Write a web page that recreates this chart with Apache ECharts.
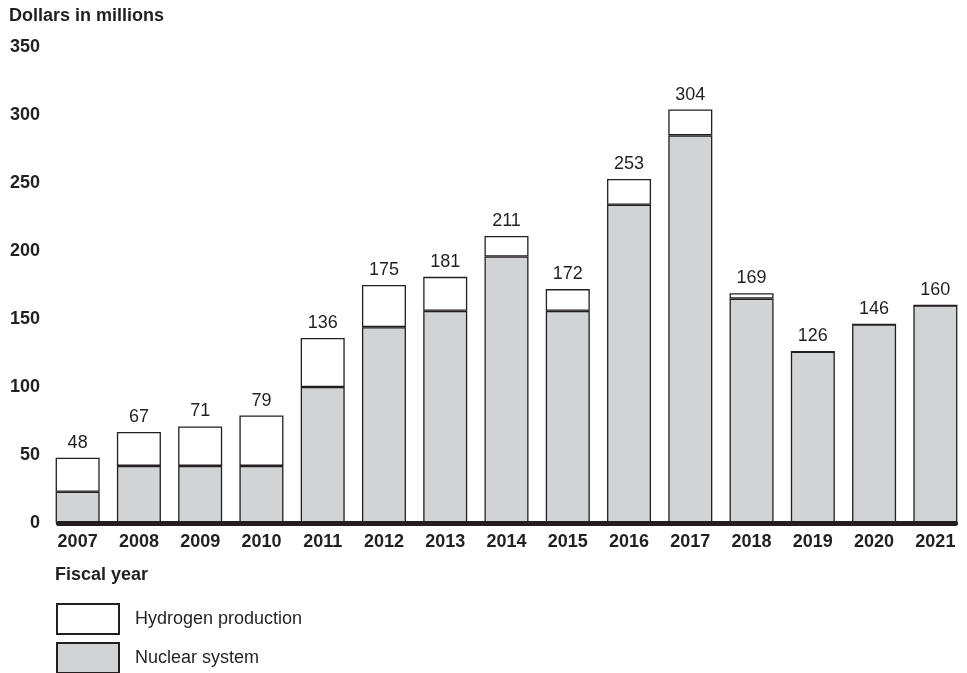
<!DOCTYPE html>
<html>
<head>
<meta charset="utf-8">
<script src="https://cdn.jsdelivr.net/npm/echarts@6/dist/echarts.min.js"></script>
<style>
html,body{margin:0;padding:0;background:#fff;}
#chart{width:967px;height:673px;}
</style>
</head>
<body>
<div id="chart"></div>
<script>
const years = ['2007','2008','2009','2010','2011','2012','2013','2014','2015','2016','2017','2018','2019','2020','2021'];
const nuclear = [23, 42, 42, 42, 100, 144, 156, 196, 156, 234, 285, 165, 126, 146, 160];
const hydrogen = [25, 25, 29, 37, 36, 31, 25, 15, 16, 19, 19, 4, 0, 0, 0];
const totals = [48, 67, 71, 79, 136, 175, 181, 211, 172, 253, 304, 169, 126, 146, 160];
const yTicks = [0, 50, 100, 150, 200, 250, 300, 350];

const ink = '#231f20';
const font = '"Liberation Sans", Arial, Helvetica, sans-serif';

const legendBase = {
  orient: 'vertical', left: 56, padding: 0,
  itemWidth: 62, itemHeight: 30,
  icon: 'rect',
  textStyle: {fontFamily: font, fontSize: 18, color: ink, padding: [0, 0, 0, 11]}
};

const chart = echarts.init(document.getElementById('chart'), null, {renderer: 'canvas'});
chart.setOption({
  animation: false,
  backgroundColor: '#ffffff',
  textStyle: {fontFamily: font, color: ink},
  title: [
    {text: 'Dollars in millions', left: 9, top: 7, padding: 0,
     textStyle: {fontFamily: font, fontSize: 18, fontWeight: 'bold', color: ink}},
    {text: 'Fiscal year', left: 55, top: 566, padding: 0,
     textStyle: {fontFamily: font, fontSize: 18, fontWeight: 'bold', color: ink}}
  ],
  legend: [
    Object.assign({}, legendBase, {top: 603, data: ['Hydrogen production']}),
    Object.assign({}, legendBase, {top: 642, data: ['Nuclear system']})
  ],
  grid: [
    {left: 47, right: 1, top: 47, bottom: 150},
    {left: 58.5, right: 11.5, top: 47, bottom: 150}
  ],
  xAxis: [
    {type: 'category', gridIndex: 0, data: years,
     axisLine: {show: false}, axisTick: {show: false},
     axisLabel: {margin: 10, fontFamily: font, fontSize: 18, fontWeight: 'bold', color: ink}},
    {type: 'category', gridIndex: 1, data: years, z: 10,
     axisLine: {show: true, lineStyle: {color: ink, width: 5}},
     axisTick: {show: false}, axisLabel: {show: false}}
  ],
  yAxis: [
    {type: 'value', gridIndex: 0, min: yTicks[0], max: yTicks[yTicks.length - 1], interval: 50,
     axisLine: {show: false}, axisTick: {show: false}, splitLine: {show: false},
     axisLabel: {margin: 7, fontFamily: font, fontSize: 18, fontWeight: 'bold', color: ink}},
    {type: 'value', gridIndex: 1, min: yTicks[0], max: yTicks[yTicks.length - 1], interval: 50, show: false}
  ],
  series: [
    {name: 'Nuclear system', type: 'bar', stack: 'total', xAxisIndex: 0, yAxisIndex: 0,
     barWidth: 44, data: nuclear,
     itemStyle: {color: '#d1d3d4', borderColor: ink, borderWidth: 1.3}},
    {name: 'Hydrogen production', type: 'bar', stack: 'total', xAxisIndex: 0, yAxisIndex: 0,
     barWidth: 44, data: hydrogen,
     itemStyle: {color: '#ffffff', borderColor: ink, borderWidth: 1.3},
     label: {show: true, position: 'top', distance: 6,
       formatter: p => String(totals[p.dataIndex]),
       fontFamily: font, fontSize: 18, color: ink}}
  ]
});
</script>
</body>
</html>
